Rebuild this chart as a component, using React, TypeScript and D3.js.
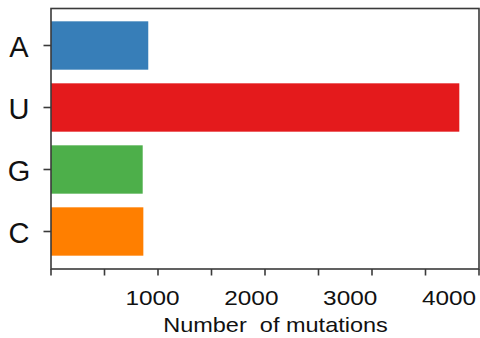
import React from "react";
import * as d3 from "d3";

const categories = ["A", "U", "G", "C"];
const values = [909, 3816, 857, 863];
const colors = ["#377eb8", "#e41a1c", "#4daf4a", "#ff7f00"];
const majorTicks = [0, 500, 1000, 1500, 2000, 2500, 3000, 3500, 4000];
const tickLabels = [1000, 2000, 3000, 4000];
const xTitle = "Number  of mutations";

const W = 480;
const H = 338;
const frame = { left: 51, top: 8.5, right: 479, bottom: 269 };

export default function App() {
  const x = d3.scaleLinear().domain([0, 4000]).range([frame.left, 479]);
  const labelX = d3.scaleLinear().domain([1000, 4000]).range([152.5, 449]);
  const y = d3
    .scaleBand<string>()
    .domain(categories)
    .range([14.5, 262.5])
    .paddingInner(0.22)
    .paddingOuter(0.11);
  const font = "Arial, 'Liberation Sans', sans-serif";
  const axisColor = "#3a3a3a";
  return (
    <svg
      width={W}
      height={H}
      style={{ position: "absolute", left: 0, top: 0, background: "#fff" }}
      fontFamily={font}
    >
      <rect x={0} y={0} width={W} height={H} fill="#fff" />
      {categories.map((c, i) => (
        <rect
          key={c}
          x={x(0)}
          y={y(c)!}
          width={x(values[i]) - x(0)}
          height={y.bandwidth()}
          fill={colors[i]}
        />
      ))}
      {/* frame */}
      <rect
        x={frame.left}
        y={frame.top}
        width={frame.right - frame.left}
        height={frame.bottom - frame.top}
        fill="none"
        stroke={axisColor}
        strokeWidth={1.6}
      />
      {/* x ticks */}
      {majorTicks.map((t) => (
        <line
          key={t}
          x1={x(t)}
          x2={x(t)}
          y1={frame.bottom}
          y2={frame.bottom + 6.5}
          stroke={axisColor}
          strokeWidth={1.6}
        />
      ))}
      {tickLabels.map((t) => (
        <text
          key={t}
          transform={`translate(${labelX(t)},305) scale(1.16,1)`}
          textAnchor="middle"
          fontSize={21}
          fill="#111"
        >
          {t}
        </text>
      ))}
      {/* y ticks and labels */}
      {categories.map((c) => {
        const cy = y(c)! + y.bandwidth() / 2;
        return (
          <g key={c}>
            <line
              x1={frame.left - 7.5}
              x2={frame.left}
              y1={cy}
              y2={cy}
              stroke={axisColor}
              strokeWidth={1.6}
            />
            <text
              x={19}
              y={cy + 11.8}
              textAnchor="middle"
              fontSize={29}
              fill="#111"
            >
              {c}
            </text>
          </g>
        );
      })}
      <text
        transform={`translate(275.5,331.5) scale(1.12,1)`}
        textAnchor="middle"
        fontSize={21}
        fill="#111"
        style={{ whiteSpace: "pre" }}
      >
        {xTitle}
      </text>
    </svg>
  );
}
